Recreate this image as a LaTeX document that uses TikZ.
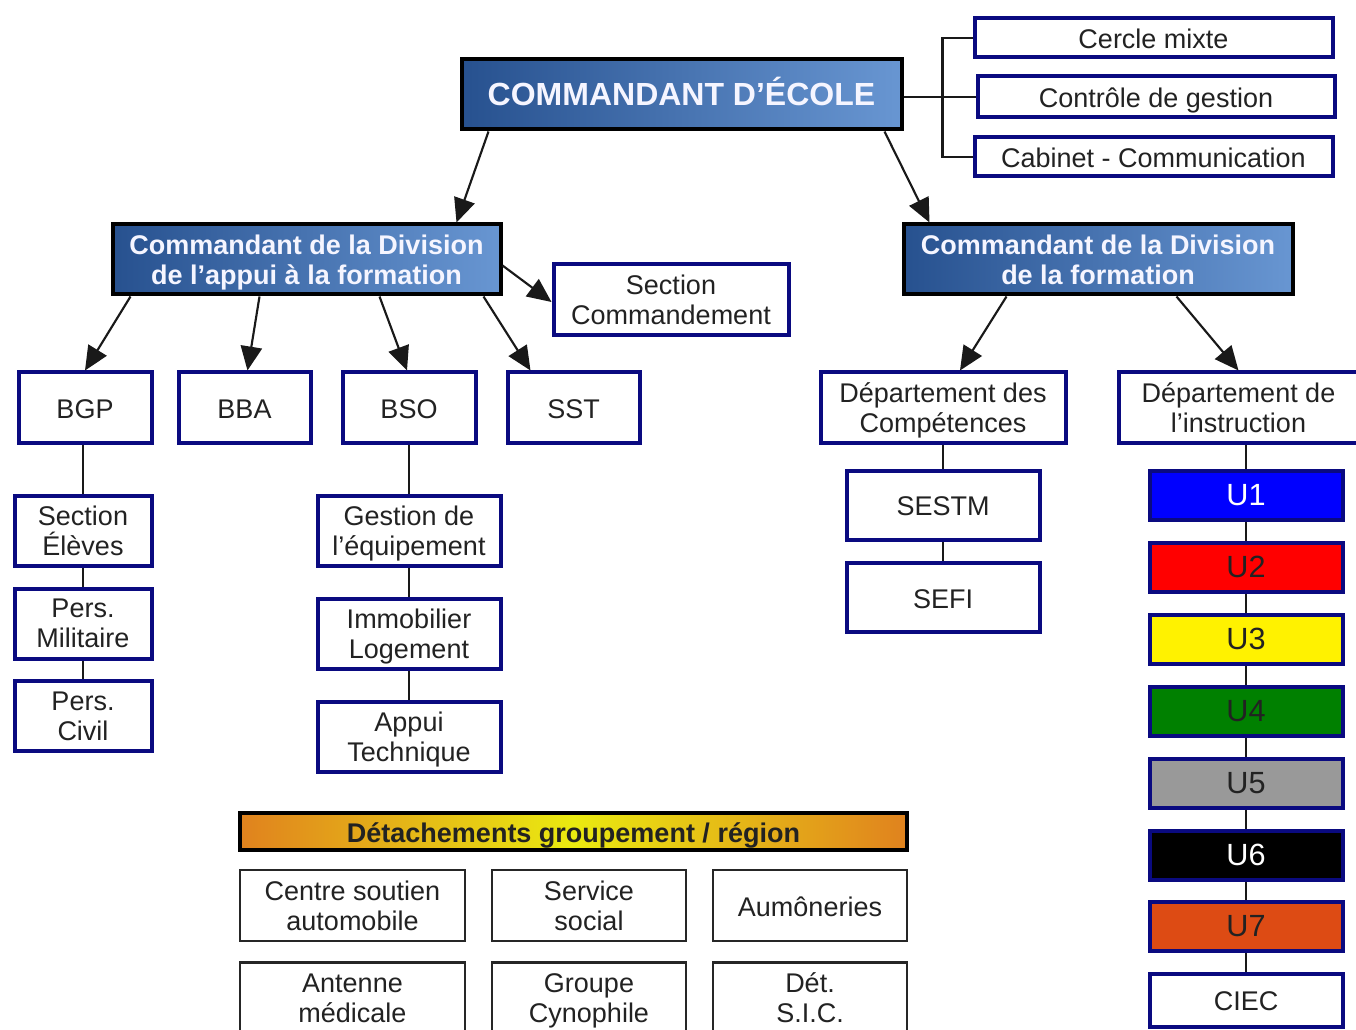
\documentclass[tikz,border=0pt]{standalone}
\usepackage{fontspec}
\setmainfont{Liberation Sans}
\usetikzlibrary{arrows.meta,calc}
\definecolor{navyb}{HTML}{0A0A80}
\definecolor{hdark}{HTML}{27518F}
\definecolor{hlight}{HTML}{6896D2}
\definecolor{txt}{HTML}{222222}
\definecolor{borange}{HTML}{E0821E}
\definecolor{byellow}{HTML}{EAEA10}
\definecolor{uorange}{HTML}{DD4B14}
\definecolor{ugreen}{HTML}{008000}
\definecolor{ugray}{HTML}{999999}
\newcommand\topstrut{\rule{0pt}{16pt}}
\begin{document}
\begin{tikzpicture}[x=0.75pt,y=-0.75pt,
  base/.style={align=center, inner sep=0pt, text=txt,
    font=\fontsize{20.25}{22.5}\selectfont,
    execute at begin node=\topstrut, text depth=0pt},
  nbox/.style 2 args={base, draw=navyb, line width=3pt, fill=white,
    minimum width=#1*0.75pt, minimum height=#2*0.75pt},
  hbox/.style 2 args={base, draw=black, line width=3pt, left color=hdark,
    right color=hlight, text=white!96!blue,
    font=\fontsize{20.25}{22.5}\selectfont\bfseries,
    minimum width=#1*0.75pt, minimum height=#2*0.75pt},
  gbox/.style 2 args={base, draw=black!85, line width=1.8pt, fill=white,
    minimum width=#1*0.75pt, minimum height=#2*0.75pt},
  unitbox/.style 2 args={nbox={193}{49}, fill=#1, text=#2,
    font=\fontsize{23}{25}\selectfont},
  conn/.style={draw=black!90, line width=1.6pt},
  arr/.style={conn, -{Triangle[length=18pt,width=16pt]}}
]
\useasboundingbox (0,0) rectangle (1356,1030);
\clip (0,0) rectangle (1356,1030);
\fill[white] (0,0) rectangle (1356,1030);

% top
\node[hbox={440}{70}, font=\fontsize{24}{28}\selectfont\bfseries,
  execute at begin node={}, text height=17.2pt] (cde) at (681.5,94.5) {COMMANDANT D’ÉCOLE};
\node[nbox={358}{39}] (cercle) at (1153.5,38) {Cercle mixte};
\node[nbox={357}{41}] (ctrl) at (1156,97) {Contrôle de gestion};
\node[nbox={358}{39}] (cab) at (1153.5,157) {Cabinet - Communication};

% divisions
\node[hbox={388}{70}] (daf) at (306.5,259.5) {Commandant de la Division\\de l’appui à la formation};
\node[hbox={389}{70}] (df) at (1098,259.5) {Commandant de la Division\\de la formation};
\node[nbox={235}{71}] (seccmd) at (671,300) {Section\\Commandement};

% level 3 left
\node[nbox={133}{70}] (bgp) at (85,407.5) {BGP};
\node[nbox={132}{70}] (bba) at (244.5,407.5) {BBA};
\node[nbox={133}{70}] (bso) at (409,407.5) {BSO};
\node[nbox={132}{70}] (sst) at (573.5,407.5) {SST};

\node[nbox={137}{70}] (se) at (83,530.5) {Section\\Élèves};
\node[nbox={137}{70}] (pm) at (83,623.5) {Pers.\\Militaire};
\node[nbox={137}{70}] (pc) at (83,716) {Pers.\\Civil};

\node[nbox={183}{70}] (ge) at (409,530.5) {Gestion de\\l’équipement};
\node[nbox={183}{70}] (il) at (409,633.5) {Immobilier\\Logement};
\node[nbox={183}{70}] (at) at (409,736.5) {Appui\\Technique};

% level 3 right
\node[nbox={245}{70}] (dc) at (943,407.5) {Département des\\Compétences};
\node[nbox={240}{70}] (di) at (1238.5,407.5) {Département de\\l’instruction};
\node[nbox={193}{69}] (sestm) at (943,505) {SESTM};
\node[nbox={193}{69}] (sefi) at (943,597.5) {SEFI};

\node[unitbox={blue}{white}] (u1) at (1246,495) {U1};
\node[unitbox={red}{txt}] (u2) at (1246,567) {U2};
\node[unitbox={yellow}{txt}] (u3) at (1246,639) {U3};
\node[unitbox={ugreen}{txt}] (u4) at (1246,711) {U4};
\node[unitbox={ugray}{txt}] (u5) at (1246,783) {U5};
\node[unitbox={black}{white}] (u6) at (1246,855) {U6};
\node[unitbox={uorange}{txt}] (u7) at (1246,926) {U7};
\node[nbox={193}{53}] (ciec) at (1246,1000) {CIEC};

% detachements
\node[base, draw=black, line width=3pt, left color=borange, right color=borange,
  middle color=byellow, minimum width=667*0.75pt, minimum height=37*0.75pt,
  font=\fontsize{20.25}{22.5}\selectfont\bfseries] (det) at (573.5,831.5)
  {Détachements groupement / région};
\node[gbox={225}{71}] (csa) at (352.5,905.5) {Centre soutien\\automobile};
\node[gbox={194}{71}] (ss) at (589,905.5) {Service\\social};
\node[gbox={194}{71}] (aum) at (810,905.5) {Aumôneries};
\node[gbox={225}{71}] (am) at (352.5,998) {Antenne\\médicale};
\node[gbox={194}{71}] (gc) at (589,998) {Groupe\\Cynophile};
\node[gbox={194}{71}] (dsic) at (810,998) {Dét.\\S.I.C.};

% connectors top-right
\draw[conn] (cde.east |- ctrl.west) -- (ctrl.west);
\draw[conn] (cercle.west) -- ++(-30,0) |- (cab.west);

% arrows
\draw[arr] ($(cde.south west)+(29,0)$) -- ($(daf.north east)+(-46,0)$);
\draw[arr] ($(cde.south east)+(-19,0)$) -- ($(df.north west)+(28,0)$);
\draw[arr] ($(daf.east)+(0,6)$) -- ($(seccmd.west)+(0,2)$);
\draw[arr] ($(daf.south west)+(20,0)$) -- (bgp.north);
\draw[arr] ($(daf.south west)+(149,0)$) -- ($(bba.north)+(3,0)$);
\draw[arr] ($(daf.south west)+(269,0)$) -- ($(bso.north)+(-2,0)$);
\draw[arr] ($(daf.south west)+(373,0)$) -- ($(sst.north)+(-43,0)$);
\draw[arr] ($(df.south west)+(105,0)$) -- ($(dc.north)+(17,0)$);
\draw[arr] ($(df.south west)+(275,0)$) -- (di.north);

% vertical links
\draw[conn] (se.north |- bgp.south) -- (se.north);
\draw[conn] (se.south) -- (pm.north);
\draw[conn] (pm.south) -- (pc.north);
\draw[conn] (bso.south) -- (ge.north);
\draw[conn] (ge.south) -- (il.north);
\draw[conn] (il.south) -- (at.north);
\draw[conn] (dc.south) -- (sestm.north);
\draw[conn] (sestm.south) -- (sefi.north);
\draw[conn] (u1.north |- di.south) -- (u1.north);
\draw[conn] (u1.south) -- (u2.north);
\draw[conn] (u2.south) -- (u3.north);
\draw[conn] (u3.south) -- (u4.north);
\draw[conn] (u4.south) -- (u5.north);
\draw[conn] (u5.south) -- (u6.north);
\draw[conn] (u6.south) -- (u7.north);
\draw[conn] (u7.south) -- (ciec.north);
\end{tikzpicture}
\end{document}
